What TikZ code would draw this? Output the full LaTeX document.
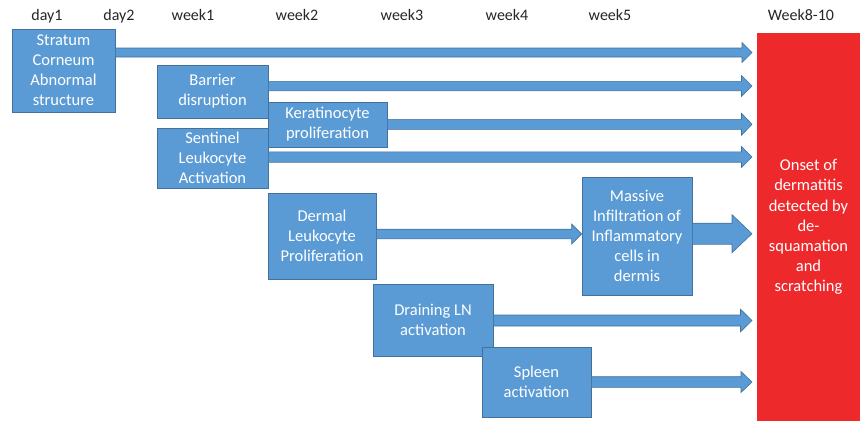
\documentclass[tikz,border=0pt]{standalone}
\usepackage{fontspec}
\setmainfont{Carlito}
\usetikzlibrary{calc}
\definecolor{boxblue}{RGB}{91,155,213}
\definecolor{boxedge}{RGB}{65,113,156}
\definecolor{onsetred}{RGB}{237,41,44}
\definecolor{labelgray}{RGB}{38,38,38}
\newcommand{\blockarrow}[5]{%
  \path[barrow] ($(#1)+(0,#3)$) -- ($(#2)+(-#5,#3)$) -- ($(#2)+(-#5,#4)$) -- (#2)
    -- ($(#2)+(-#5,-#4)$) -- ($(#2)+(-#5,-#3)$) -- ($(#1)+(0,-#3)$) -- cycle;}
\begin{document}
\begin{tikzpicture}[x=1pt,y=-1pt,
  box/.style={draw=boxedge, line width=0.75pt, fill=boxblue, text=white, align=center,
    inner sep=0pt, font=\fontsize{16.5}{20}\selectfont},
  onset/.style={fill=onsetred, text=white, align=center, inner sep=0pt,
    font=\fontsize{16.5}{20.2}\selectfont},
  timelabel/.style={anchor=base, text=labelgray, inner sep=0pt, font=\fontsize{16}{19}\selectfont},
  barrow/.style={draw=boxedge, line width=0.6pt, fill=boxblue}]
\useasboundingbox (0,0) rectangle (860,421);

% time labels
\node[timelabel] (d1) at (47,20) {day1};
\node[timelabel] (d2) at (119,20) {day2};
\node[timelabel] (w1) at (193,20) {week1};
\node[timelabel] (w2) at (297,20) {week2};
\node[timelabel] (w3) at (402,20) {week3};
\node[timelabel] (w4) at (507,20) {week4};
\node[timelabel] (w5) at (610,20) {week5};
\node[timelabel] (w8) at (801,20.5) {Week8-10};

% onset box
\node[onset, minimum width=103pt, minimum height=388pt] (onset) at (808.5,227)
  {Onset of\\dermatitis\\detected by\\de-\\squamation\\and\\scratching};

% event boxes
\node[box, minimum width=103pt, minimum height=83pt] (strat) at (63.5,70.5)
  {Stratum\\Corneum\\Abnormal\\structure};
\node[box, minimum width=111pt, minimum height=53pt] (barrier) at (212.5,91.5)
  {Barrier\\disruption};
\node[box, minimum width=119pt, minimum height=45pt] (kera) at (327.5,124.5)
  {Keratinocyte\\proliferation};
\node[box, minimum width=111pt, minimum height=60pt] (sent) at (212.5,158)
  {Sentinel\\Leukocyte\\Activation};
\node[box, minimum width=108pt, minimum height=86pt] (dermal) at (322,236)
  {Dermal\\Leukocyte\\Proliferation};
\node[box, minimum width=110pt, minimum height=118pt] (massive) at (637,236)
  {Massive\\Infiltration of\\Inflammatory\\cells in\\dermis};
\node[box, minimum width=120pt, minimum height=72pt] (drain) at (433,320)
  {Draining LN\\activation};
\node[box, minimum width=109pt, minimum height=70pt] (spleen) at (536.5,382)
  {Spleen\\activation};

% arrow tips (free ends)
\coordinate (t1) at (752,52.5);
\coordinate (t2) at (752,86);
\coordinate (t3) at (752,124.3);
\coordinate (t4) at (752,157);
\coordinate (t5) at (massive.west |- 0,234);
\coordinate (t6) at (752,233.7);
\coordinate (t7) at (752,320.5);
\coordinate (t8) at (752,382);

% arrow starts
\coordinate (s1) at (strat.east |- t1);
\coordinate (s2) at (barrier.east |- t2);
\coordinate (s3) at (kera.east |- t3);
\coordinate (s4) at (sent.east |- t4);
\coordinate (s5) at (dermal.east |- t5);
\coordinate (s6) at (massive.east |- t6);
\coordinate (s7) at (drain.east |- t7);
\coordinate (s8) at (spleen.east |- t8);

\blockarrow{s1}{t1}{4.5}{10}{10}
\blockarrow{s2}{t2}{4.7}{10.5}{10.5}
\blockarrow{s3}{t3}{5}{11}{10.5}
\blockarrow{s4}{t4}{5.2}{10.5}{10.5}
\blockarrow{s5}{t5}{4.8}{10}{10}
\blockarrow{s6}{t6}{10.5}{19}{20}
\blockarrow{s7}{t7}{5.5}{11.3}{11.5}
\blockarrow{s8}{t8}{5.3}{10.5}{11}
\end{tikzpicture}
\end{document}
